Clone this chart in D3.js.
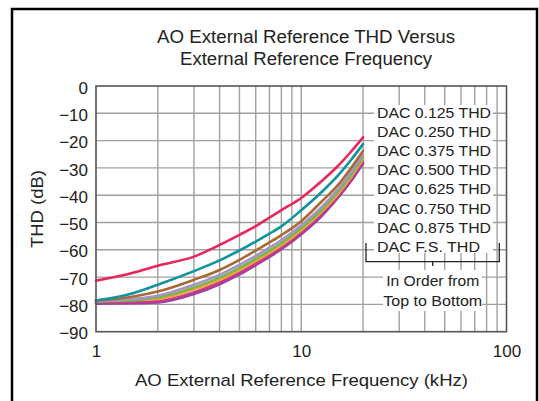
<!DOCTYPE html>
<html>
<head>
<meta charset="utf-8">
<script src="https://cdn.jsdelivr.net/npm/d3@7"></script>
<style>
  html, body { margin: 0; padding: 0; background: #fff; }
  svg { display: block; font-family: "Liberation Sans", Arial, Helvetica, sans-serif; }
</style>
</head>
<body>
<svg id="chart" width="539" height="401"></svg>
<script>
// ---- data ----
const freqs = [1, 1.5, 2, 3, 4, 5, 6, 7, 8, 10, 12.5, 15, 17.5, 20];
const seriesNames = ["DAC 0.125 THD", "DAC 0.250 THD", "DAC 0.375 THD", "DAC 0.500 THD",
                     "DAC 0.625 THD", "DAC 0.750 THD", "DAC 0.875 THD", "DAC F.S. THD"];
const dac0125 = [-71.3, -68.5, -65.8, -62.5, -58.2, -54.5, -51.3, -48.2, -45.5, -41.0, -35.0, -29.5, -24.0, -18.8];
const dac0250 = [-78.6, -76.0, -72.8, -67.8, -63.9, -60.2, -57.0, -54.1, -51.4, -45.5, -39.0, -33.0, -27.0, -21.3];
const dac0375 = [-78.6, -77.2, -75.3, -71.0, -67.4, -63.7, -60.3, -57.3, -54.6, -49.5, -42.5, -36.5, -30.0, -23.8];
const dac0500 = [-78.8, -78.0, -76.8, -72.8, -69.2, -65.5, -62.2, -59.2, -56.4, -51.0, -44.5, -38.0, -31.5, -25.0];
const dac0625 = [-79.0, -78.5, -77.5, -73.8, -70.2, -66.6, -63.3, -60.3, -57.5, -52.0, -45.5, -39.0, -32.5, -26.0];
const dac0750 = [-78.6, -78.4, -78.0, -74.5, -71.0, -67.4, -64.1, -61.1, -58.3, -52.8, -46.3, -39.8, -33.3, -26.8];
const dac0875 = [-79.3, -79.2, -78.8, -75.6, -72.0, -68.4, -65.0, -62.0, -59.2, -53.6, -47.0, -40.5, -34.0, -27.6];
const dacFS   = [-79.7, -79.6, -79.3, -76.2, -72.6, -69.0, -65.6, -62.6, -59.8, -54.3, -47.8, -41.2, -34.8, -28.4];
const seriesValues = [dac0125, dac0250, dac0375, dac0500, dac0625, dac0750, dac0875, dacFS];
const seriesColors = ["#e8285c", "#10939f", "#a86a30", "#a893c8", "#74b84a", "#f4a23a", "#c43a8c", "#9a40a0"];
const yTicks = [0, -10, -20, -30, -40, -50, -60, -70, -80, -90];
const xTicks = [1, 10, 100];
const xTickLabels = ["1", "10", "100"];
const titleLines = ["AO External Reference THD Versus", "External Reference Frequency"];
const xTitle = "AO External Reference Frequency (kHz)";
const yTitle = "THD (dB)";
const noteLines = ["In Order from", "Top to Bottom"];

// ---- layout ----
const svg = d3.select("#chart");
const L = 96, R = 506.5, T = 86, B = 331.7;
const x = d3.scaleLog().domain([1, 100]).range([L, R]);
const y = d3.scaleLinear().domain([-90, 0]).range([B, T]);
const ink = "#222";

// outer frame
svg.append("rect").attr("x", 12).attr("y", 9).attr("width", 525).attr("height", 405)
  .attr("fill", "none").attr("stroke", "#000").attr("stroke-width", 2.5);

// titles
const titleW = [298, 252];
svg.selectAll("text.title").data(titleLines).join("text")
  .attr("class", "title")
  .attr("x", 306).attr("y", (d, i) => 43.4 + i * 21.6)
  .attr("text-anchor", "middle").attr("font-size", 17.5).attr("fill", ink)
  .attr("textLength", (d, i) => titleW[i]).attr("lengthAdjust", "spacingAndGlyphs")
  .text(d => d);

// grid
const minor = [];
for (let dec of [1, 10]) for (let k = 2; k <= 9; k++) minor.push(dec * k);
const g = svg.append("g");
g.selectAll("line.vg").data(minor.concat([10])).join("line")
  .attr("x1", d => x(d)).attr("x2", d => x(d)).attr("y1", T).attr("y2", B)
  .attr("stroke", "#a0a0a0").attr("stroke-width", 1.4);
g.selectAll("line.hg").data(yTicks.filter(v => v > -90 && v < 0)).join("line")
  .attr("x1", L).attr("x2", R).attr("y1", d => y(d)).attr("y2", d => y(d))
  .attr("stroke", "#a0a0a0").attr("stroke-width", 1.4);

// legend backgrounds (white boxes over grid)
svg.append("rect").attr("x", 374).attr("y", 105).attr("width", 119).attr("height", 148).attr("fill", "#fff");
svg.append("rect").attr("x", 383).attr("y", 270).attr("width", 99).attr("height", 41).attr("fill", "#fff");

// lines
const line = d3.line().x(d => x(d[0])).y(d => y(d[1])).curve(d3.curveMonotoneX);
svg.append("g").selectAll("path").data(seriesValues.slice().reverse()).join("path")
  .attr("d", vals => line(freqs.map((f, i) => [f, vals[i]])))
  .attr("fill", "none")
  .attr("stroke", (d, i) => seriesColors[seriesValues.length - 1 - i])
  .attr("stroke-width", 2.6).attr("stroke-linecap", "round");

// frame
svg.append("rect").attr("x", L).attr("y", T).attr("width", R - L).attr("height", B - T)
  .attr("fill", "none").attr("stroke", "#555").attr("stroke-width", 1.6);

// axes
const yAxis = d3.axisLeft(y).tickValues(yTicks).tickSize(0).tickPadding(8)
  .tickFormat(d => d === 0 ? "0" : "\u2212" + Math.abs(d));
const ya = svg.append("g").attr("transform", `translate(${L},0)`).call(yAxis);
ya.select(".domain").remove();
ya.selectAll("text").attr("font-size", 17).attr("font-family", "Liberation Sans, Arial, sans-serif")
  .attr("fill", ink).attr("dy", "0.42em");

const xAxis = d3.axisBottom(x).tickValues(xTicks).tickSize(0).tickPadding(13)
  .tickFormat((d, i) => xTickLabels[i]);
const xa = svg.append("g").attr("transform", `translate(0,${B})`).call(xAxis);
xa.select(".domain").remove();
xa.selectAll("text").attr("font-size", 17).attr("font-family", "Liberation Sans, Arial, sans-serif")
  .attr("fill", ink);

svg.append("text").attr("x", 301.5).attr("y", 386).attr("text-anchor", "middle")
  .attr("font-size", 17).attr("fill", ink)
  .attr("textLength", 333).attr("lengthAdjust", "spacingAndGlyphs").text(xTitle);
svg.append("text").attr("transform", "translate(43,209) rotate(-90)").attr("text-anchor", "middle")
  .attr("font-size", 17).attr("fill", ink)
  .attr("textLength", 78).attr("lengthAdjust", "spacingAndGlyphs").text(yTitle);

// legend
svg.selectAll("text.leg").data(seriesNames).join("text")
  .attr("class", "leg")
  .attr("x", 377).attr("y", (d, i) => 118 + i * 19.1)
  .attr("font-size", 15.2).attr("fill", ink)
  .attr("textLength", (d, i) => i === 7 ? 103 : 114).attr("lengthAdjust", "spacingAndGlyphs")
  .text(d => d);

// bracket
svg.append("path")
  .attr("d", "M366,243 V261.7 H499.3 V243 M432.7,261.7 V266")
  .attr("fill", "none").attr("stroke", ink).attr("stroke-width", 1.3);

const noteW = [93, 99];
svg.selectAll("text.note").data(noteLines).join("text")
  .attr("class", "note")
  .attr("x", 432.7).attr("y", (d, i) => 286 + i * 20.3)
  .attr("text-anchor", "middle").attr("font-size", 15.2).attr("fill", ink)
  .attr("textLength", (d, i) => noteW[i]).attr("lengthAdjust", "spacingAndGlyphs")
  .text(d => d);
</script>
</body>
</html>
